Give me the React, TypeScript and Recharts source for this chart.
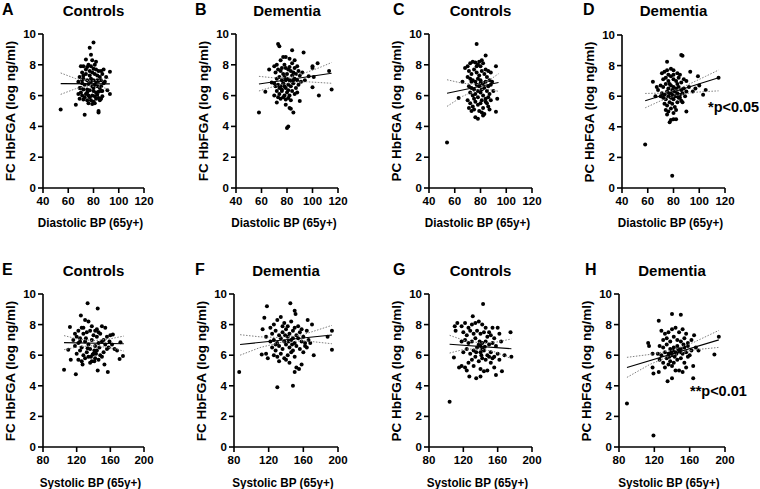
import React from 'react';
import { ScatterChart, Scatter, XAxis, YAxis } from 'recharts';

const FONT = '"Liberation Sans", Arial, Helvetica, sans-serif';

// ---------- tick labels ----------
const yTicks = [0, 2, 4, 6, 8, 10];
const diaTicks = [40, 60, 80, 100, 120];
const sysTicks = [80, 120, 160, 200];

// ---------- panel texts ----------
const panelLetters = ['A', 'B', 'C', 'D', 'E', 'F', 'G', 'H'];
const panelTitles = ['Controls', 'Dementia', 'Controls', 'Dementia', 'Controls', 'Dementia', 'Controls', 'Dementia'];
const yLabels = ['FC HbFGA (log ng/ml)', 'FC HbFGA (log ng/ml)', 'PC HbFGA (log ng/ml)', 'PC HbFGA (log ng/ml)',
  'FC HbFGA (log ng/ml)', 'FC HbFGA (log ng/ml)', 'PC HbFGA (log ng/ml)', 'PC HbFGA (log ng/ml)'];
const xLabels = ['Diastolic BP (65y+)', 'Diastolic BP (65y+)', 'Diastolic BP (65y+)', 'Diastolic BP (65y+)',
  'Systolic BP (65y+)', 'Systolic BP (65y+)', 'Systolic BP (65y+)', 'Systolic BP (65y+)'];
const pValues = ['', '', '', '*p<0.05', '', '', '', '**p<0.01'];

type P = [number, number];

// ---------- A: Controls, FC vs diastolic ----------
const pointsA: P[] = [
  [54, 5.1], [80, 9.45], [77, 9.1], [78, 8.65], [74, 8.35], [82, 8.2], [73, 4.75], [84, 5.0], [84, 4.9], [66, 5.4],
  [93, 6.1], [93, 7.55], [91, 6.35], [90, 7.2], [89, 6.9], [88, 6.8], [87, 6.3], [86, 5.8], [85, 5.7],
  [70, 7.9], [72, 7.9], [75, 7.85], [78, 7.9], [80, 7.75], [82, 7.7], [84, 7.6], [86, 7.6], [71, 7.5], [74, 7.4],
  [77, 7.3], [79, 7.5], [81, 7.4], [83, 7.3], [85, 7.2], [69, 7.2], [72, 7.1], [75, 7.0], [78, 7.1], [80, 7.0],
  [82, 6.9], [84, 6.95], [86, 7.0], [68, 6.9], [71, 6.8], [73, 6.7], [76, 6.75], [79, 6.6], [81, 6.7], [83, 6.6],
  [70, 6.5], [72, 6.4], [75, 6.4], [77, 6.35], [80, 6.3], [82, 6.2], [84, 6.25], [86, 6.3], [68, 6.1], [71, 6.0],
  [74, 6.1], [76, 6.0], [79, 6.0], [81, 5.95], [83, 6.05], [69, 5.8], [72, 5.75], [75, 5.7], [78, 5.7], [80, 5.6],
  [82, 5.8], [76, 5.5], [79, 5.45], [73, 5.9], [85, 6.5], [87, 7.4], [88, 7.7], [77, 7.6], [74, 7.7], [76, 8.0],
  [81, 8.0], [79, 8.3], [72, 7.3], [70, 6.2], [78, 6.9], [80, 6.5], [83, 7.0], [86, 6.6], [75, 6.2], [84, 5.85],
  [87, 5.95], [71, 7.0], [69, 6.5], [77, 5.9], [81, 5.5],
];
const regA: P[] = [[54, 6.78], [93, 6.76]];
const ciUpA: P[] = [[54, 7.47], [66, 7.1], [78, 6.95], [86, 7.0], [93, 7.15]];
const ciLoA: P[] = [[54, 6.08], [66, 6.45], [78, 6.62], [86, 6.55], [93, 6.4]];

// ---------- B: Dementia, FC vs diastolic ----------
const pointsB: P[] = [
  [58, 4.9], [73, 9.35], [74, 9.2], [84, 8.95], [93, 8.8], [80, 3.9], [81, 4.0], [85, 4.9], [83, 5.15], [82, 5.2],
  [79, 5.4], [72, 5.55], [63, 6.25], [66, 7.7], [68, 6.85], [100, 7.9], [100, 7.8], [104, 8.1], [101, 7.2],
  [100, 6.55], [105, 6.0], [113, 7.6], [115, 6.4], [90, 5.65], [97, 7.25], [94, 7.0],
  [70, 7.9], [72, 8.0], [75, 8.3], [77, 8.5], [79, 8.5], [82, 8.4], [84, 8.1], [86, 8.3], [88, 7.9], [71, 7.5],
  [73, 7.7], [75, 7.6], [77, 7.4], [79, 7.8], [81, 7.7], [83, 7.6], [85, 7.5], [87, 7.4], [89, 7.6], [72, 7.1],
  [74, 7.2], [76, 7.0], [78, 7.2], [80, 7.1], [82, 7.0], [84, 7.3], [86, 7.1], [88, 7.0], [90, 7.3], [70, 6.8],
  [73, 6.7], [75, 6.6], [77, 6.8], [79, 6.5], [81, 6.7], [83, 6.6], [85, 6.8], [87, 6.5], [72, 6.3], [74, 6.1],
  [76, 6.3], [78, 6.0], [80, 6.2], [82, 6.0], [84, 6.3], [86, 6.1], [75, 5.8], [77, 5.9], [79, 5.75], [81, 5.85],
  [83, 5.7], [70, 6.0], [74, 6.5], [78, 6.6], [80, 7.4], [76, 7.8], [84, 6.9], [86, 7.8], [92, 7.5], [88, 6.2],
  [89, 6.7], [91, 6.9], [71, 6.6], [73, 5.9], [79, 7.0], [81, 6.35], [78, 8.0], [82, 7.85], [76, 6.4], [85, 7.0],
];
const regB: P[] = [[58, 6.75], [115, 7.45]];
const ciUpB: P[] = [[58, 7.25], [70, 7.15], [82, 7.2], [95, 7.5], [105, 7.8], [115, 8.15]];
const ciLoB: P[] = [[58, 6.3], [70, 6.6], [82, 6.85], [95, 6.9], [105, 6.85], [115, 6.8]];

// ---------- C: Controls, PC vs diastolic ----------
const pointsC: P[] = [
  [54, 2.95], [77, 9.35], [84, 8.6], [81, 8.3], [92, 7.9], [92, 4.95], [93, 5.8], [78, 4.5], [76, 4.6], [82, 4.7],
  [63, 5.85], [66, 6.9], [68, 7.8],
  [70, 7.9], [72, 8.1], [74, 8.2], [76, 8.15], [78, 8.0], [80, 7.9], [82, 8.1], [84, 7.7], [86, 7.6], [88, 7.5],
  [71, 7.6], [73, 7.4], [75, 7.7], [77, 7.5], [79, 7.3], [81, 7.6], [83, 7.4], [85, 7.2], [87, 7.0], [70, 7.2],
  [72, 7.1], [74, 7.0], [76, 6.9], [78, 7.1], [80, 7.0], [82, 6.8], [84, 6.9], [86, 6.6], [89, 6.9], [71, 6.6],
  [73, 6.5], [75, 6.4], [77, 6.7], [79, 6.6], [81, 6.4], [83, 6.5], [85, 6.3], [87, 6.1], [72, 6.2], [74, 6.0],
  [76, 6.1], [78, 5.9], [80, 6.2], [82, 6.0], [84, 5.8], [86, 5.9], [88, 5.7], [70, 5.7], [72, 5.5], [74, 5.3],
  [76, 5.6], [78, 5.4], [80, 5.5], [82, 5.2], [84, 5.6], [86, 5.3], [71, 5.2], [73, 5.0], [75, 5.1], [79, 5.0],
  [81, 4.9], [83, 4.8], [90, 6.3], [88, 6.7], [77, 7.9], [79, 8.2], [75, 5.8], [81, 5.7], [85, 5.5], [87, 5.1],
  [73, 6.9], [80, 6.8], [78, 6.3],
];
const regC: P[] = [[54, 6.15], [94, 6.85]];
const ciUpC: P[] = [[54, 7.03], [66, 6.8], [78, 6.72], [86, 6.95], [94, 7.42]];
const ciLoC: P[] = [[54, 5.3], [66, 5.95], [78, 6.4], [86, 6.4], [94, 6.28]];

// ---------- D: Dementia, PC vs diastolic ----------
const pointsD: P[] = [
  [58, 2.85], [79, 0.8], [86, 8.7], [87, 8.65], [75, 8.25], [105, 6.4], [115, 7.2], [103, 6.1], [100, 6.7],
  [99, 7.3], [93, 7.6], [90, 7.0], [90, 5.0], [77, 4.3], [78, 4.45], [80, 4.5], [82, 4.5], [64, 6.95], [67, 6.6],
  [66, 6.0],
  [71, 7.5], [73, 7.6], [75, 7.7], [78, 7.8], [80, 7.7], [83, 7.5], [85, 7.4], [72, 7.1], [74, 7.2], [76, 7.0],
  [78, 7.3], [80, 7.1], [82, 7.0], [84, 7.2], [86, 6.9], [88, 7.1], [70, 6.7], [72, 6.6], [74, 6.8], [76, 6.5],
  [78, 6.7], [80, 6.6], [82, 6.5], [84, 6.6], [86, 6.4], [88, 6.5], [92, 6.6], [71, 6.2], [73, 6.1], [75, 6.3],
  [77, 6.2], [79, 6.1], [81, 6.3], [83, 6.2], [85, 6.1], [87, 6.2], [89, 6.0], [95, 6.3], [72, 5.9], [74, 5.8],
  [76, 6.0], [78, 5.9], [80, 5.8], [82, 6.0], [84, 5.9], [86, 5.7], [73, 5.5], [75, 5.4], [77, 5.6], [79, 5.5],
  [81, 5.3], [83, 5.6], [74, 5.1], [76, 5.0], [78, 5.2], [80, 4.9], [82, 5.1], [75, 4.8], [85, 5.9], [87, 5.6],
  [79, 6.4], [81, 6.0], [77, 6.8], [83, 6.8], [90, 6.3], [97, 6.5], [70, 6.0], [76, 7.4], [80, 7.4], [68, 6.4],
];
const regD: P[] = [[58, 5.7], [115, 7.2]];
const ciUpD: P[] = [[58, 6.18], [70, 6.2], [82, 6.4], [95, 6.9], [105, 7.3], [115, 7.71]];
const ciLoD: P[] = [[58, 5.24], [70, 5.7], [82, 6.05], [95, 6.25], [105, 6.3], [115, 6.35]];

// ---------- E: Controls, FC vs systolic ----------
const pointsE: P[] = [
  [105, 5.05], [119, 4.75], [145, 5.0], [157, 4.9], [133, 9.4], [145, 9.05], [125, 8.6], [172, 6.85], [175, 5.95],
  [171, 5.75], [168, 6.3], [112, 7.85], [110, 6.35], [113, 5.7],
  [118, 7.4], [122, 7.6], [126, 7.8], [130, 8.3], [134, 8.2], [138, 7.9], [142, 7.6], [146, 7.5], [150, 7.9],
  [154, 7.8], [116, 7.0], [120, 7.2], [124, 7.1], [128, 7.4], [132, 7.5], [136, 7.6], [140, 7.3], [144, 7.2],
  [148, 7.4], [152, 7.0], [156, 7.2], [160, 7.3], [163, 7.35], [118, 6.6], [122, 6.8], [126, 6.5], [130, 6.9],
  [134, 6.7], [138, 7.0], [142, 6.6], [146, 6.8], [150, 6.9], [154, 6.7], [158, 6.5], [162, 6.7], [120, 6.1],
  [124, 6.3], [128, 6.0], [132, 6.2], [136, 6.4], [140, 6.1], [144, 6.3], [148, 6.0], [152, 6.2], [156, 6.4],
  [165, 6.4], [122, 5.7], [126, 5.6], [130, 5.8], [134, 5.9], [138, 5.6], [142, 5.8], [146, 5.7], [150, 5.9],
  [127, 5.4], [136, 5.5], [141, 5.6], [153, 5.4], [139, 6.05], [141, 6.3], [137, 5.9], [143, 6.1], [131, 7.1],
  [147, 6.5], [133, 6.45], [159, 6.9], [124, 6.9], [144, 7.7], [128, 7.8],
];
const regE: P[] = [[105, 6.82], [176, 6.75]];
const ciUpE: P[] = [[105, 7.28], [122, 7.05], [140, 6.95], [158, 7.05], [176, 7.25]];
const ciLoE: P[] = [[105, 6.36], [122, 6.55], [140, 6.62], [158, 6.5], [176, 6.27]];

// ---------- F: Dementia, FC vs systolic ----------
const pointsF: P[] = [
  [86, 4.9], [130, 3.9], [148, 4.0], [118, 9.2], [145, 9.4], [150, 8.9], [151, 8.7], [165, 8.3], [170, 8.0],
  [172, 6.0], [188, 7.2], [193, 7.6], [193, 6.35], [150, 4.9], [152, 5.2], [155, 5.1], [158, 5.4], [112, 6.05],
  [115, 8.45], [113, 7.7], [117, 7.2], [117, 6.1], [119, 5.8],
  [122, 7.8], [126, 8.0], [130, 8.3], [134, 8.5], [138, 8.1], [142, 7.9], [146, 8.2], [150, 7.8], [154, 7.9],
  [158, 7.7], [124, 7.4], [128, 7.6], [132, 7.3], [136, 7.5], [140, 7.7], [144, 7.4], [148, 7.6], [152, 7.3],
  [156, 7.5], [160, 7.2], [164, 7.6], [122, 6.9], [126, 7.0], [130, 6.8], [134, 7.1], [138, 6.9], [142, 7.2],
  [146, 7.0], [150, 6.8], [154, 7.1], [158, 6.9], [162, 6.8], [166, 7.0], [124, 6.5], [128, 6.3], [132, 6.6],
  [136, 6.4], [140, 6.7], [144, 6.5], [148, 6.3], [152, 6.6], [156, 6.4], [160, 6.2], [164, 6.5], [126, 6.0],
  [130, 5.9], [134, 6.1], [138, 5.8], [142, 6.0], [146, 6.2], [150, 5.9], [132, 5.6], [140, 5.7], [144, 5.5],
  [128, 6.7], [136, 7.9], [148, 7.1], [162, 6.6], [168, 6.8], [143, 6.9], [139, 7.3], [147, 6.7],
];
const regF: P[] = [[87, 6.7], [193, 7.32]];
const ciUpF: P[] = [[87, 7.34], [110, 7.2], [135, 7.15], [160, 7.35], [193, 7.95]];
const ciLoF: P[] = [[87, 6.0], [110, 6.5], [135, 6.85], [160, 6.95], [193, 6.75]];

// ---------- G: Controls, PC vs systolic ----------
const pointsG: P[] = [
  [104, 2.95], [143, 9.35], [131, 8.55], [175, 7.5], [176, 5.9], [165, 4.95], [158, 4.7], [140, 4.6], [135, 4.5],
  [127, 4.6], [109, 5.85], [115, 5.2], [113, 8.1], [111, 7.6], [110, 7.9],
  [118, 7.9], [122, 8.1], [126, 7.8], [130, 8.0], [134, 8.1], [138, 8.2], [142, 8.0], [146, 7.8], [150, 7.5],
  [154, 7.8], [160, 7.8], [120, 7.5], [124, 7.3], [128, 7.6], [132, 7.4], [136, 7.6], [140, 7.4], [144, 7.5],
  [148, 7.2], [152, 7.3], [156, 7.1], [162, 7.4], [118, 6.9], [122, 7.0], [126, 6.8], [130, 6.9], [134, 7.1],
  [138, 6.7], [142, 6.8], [146, 6.9], [150, 6.7], [154, 6.8], [158, 6.6], [164, 6.9], [120, 6.2], [124, 6.4],
  [128, 6.1], [132, 6.3], [136, 6.5], [140, 6.2], [144, 6.3], [148, 6.0], [152, 6.2], [156, 5.9], [160, 6.1],
  [168, 6.0], [118, 5.3], [122, 5.2], [126, 5.5], [130, 5.7], [134, 5.9], [138, 5.6], [142, 5.8], [146, 5.7],
  [150, 5.9], [154, 5.8], [162, 5.7], [124, 5.0], [132, 5.3], [140, 5.1], [144, 4.95], [148, 5.0], [152, 5.5],
  [156, 5.2], [140, 6.6], [142, 6.4], [139, 6.9], [145, 6.55], [135, 6.2], [141, 6.0],
];
const regG: P[] = [[104, 6.72], [176, 6.42]];
const ciUpG: P[] = [[104, 7.3], [122, 6.95], [140, 6.8], [158, 6.85], [176, 7.06]];
const ciLoG: P[] = [[104, 6.14], [122, 6.4], [140, 6.4], [158, 6.2], [176, 5.77]];

// ---------- H: Dementia, PC vs systolic ----------
const pointsH: P[] = [
  [89, 2.85], [119, 0.75], [140, 8.7], [150, 8.65], [125, 8.25], [193, 7.2], [188, 6.05], [165, 7.3], [167, 6.5],
  [170, 6.3], [164, 5.3], [164, 4.5], [135, 4.3], [140, 4.5], [113, 6.8], [114, 6.6], [118, 6.1], [118, 5.2],
  [119, 4.8], [125, 4.9],
  [128, 7.6], [132, 7.4], [136, 7.5], [140, 7.7], [144, 7.8], [148, 7.5], [152, 7.7], [156, 7.4], [130, 7.0],
  [134, 7.1], [138, 6.9], [142, 7.2], [146, 7.0], [150, 6.9], [154, 7.1], [158, 6.8], [162, 7.0], [126, 6.6],
  [130, 6.5], [134, 6.7], [138, 6.4], [142, 6.5], [146, 6.6], [150, 6.4], [154, 6.5], [158, 6.6], [162, 6.3],
  [124, 6.1], [128, 6.0], [132, 6.2], [136, 6.1], [140, 6.0], [144, 6.2], [148, 6.3], [152, 6.1], [156, 6.2],
  [160, 6.0], [126, 5.7], [130, 5.5], [134, 5.8], [138, 5.6], [142, 5.5], [146, 5.7], [150, 5.8], [154, 5.5],
  [158, 5.9], [132, 5.2], [136, 5.4], [140, 5.3], [144, 5.0], [148, 5.0], [152, 4.9], [156, 5.2], [141, 6.3],
  [143, 5.9], [145, 6.1], [147, 6.4], [139, 6.2], [137, 5.9], [153, 6.7], [149, 6.2],
];
const regH: P[] = [[89, 5.2], [193, 7.0]];
const ciUpH: P[] = [[89, 5.86], [115, 6.05], [140, 6.32], [165, 6.85], [193, 7.62]];
const ciLoH: P[] = [[89, 4.55], [115, 5.4], [140, 6.0], [165, 6.35], [193, 6.51]];

// ---------- layout (pixel frames of each plot area) ----------
const frames = [
  { left: 43, right: 144, top: 34, bottom: 188 },
  { left: 236, right: 338, top: 34, bottom: 188 },
  { left: 429, right: 532, top: 34, bottom: 188 },
  { left: 622, right: 725, top: 35, bottom: 188 },
  { left: 43, right: 144, top: 294, bottom: 447 },
  { left: 234, right: 338, top: 294, bottom: 447 },
  { left: 429, right: 532, top: 294, bottom: 447 },
  { left: 619, right: 725, top: 294, bottom: 447 },
];
const letterX = [2, 195, 393, 583, 2, 195, 393, 585];
const pPos = [null, null, null, { x: 708, y: 108 }, null, null, null, { x: 690, y: 392 }];

const allPoints = [pointsA, pointsB, pointsC, pointsD, pointsE, pointsF, pointsG, pointsH];
const allReg = [regA, regB, regC, regD, regE, regF, regG, regH];
const allCiUp = [ciUpA, ciUpB, ciUpC, ciUpD, ciUpE, ciUpF, ciUpG, ciUpH];
const allCiLo = [ciLoA, ciLoB, ciLoC, ciLoD, ciLoE, ciLoF, ciLoG, ciLoH];

const toObj = (arr: P[]) => arr.map(([x, y]) => ({ x, y }));

const Dot = (props: any) => <circle cx={props.cx} cy={props.cy} r={2} fill="#000" />;
const NoDot = () => <g />;

const axisStyle = { stroke: '#000', strokeWidth: 1.6 };
const tickStyle = { fill: '#000', fontSize: 11.5, fontWeight: 700, fontFamily: FONT };

function Panel({ i }: { i: number }) {
  const f = frames[i];
  const isDia = i < 4;
  const W = f.right - f.left + 45;
  const H = f.bottom - f.top + 40;
  return (
    <div style={{ position: 'absolute', left: f.left - 35, top: f.top - 10 }}>
      <ScatterChart width={W} height={H} margin={{ top: 10, right: 10, bottom: 0, left: 0 }}>
        <XAxis
          type="number"
          dataKey="x"
          domain={isDia ? [40, 120] : [80, 200]}
          ticks={isDia ? diaTicks : sysTicks}
          interval={0}
          height={30}
          tickSize={5}
          tickMargin={4}
          axisLine={axisStyle}
          tickLine={axisStyle}
          tick={tickStyle}
          allowDataOverflow
        />
        <YAxis
          type="number"
          dataKey="y"
          domain={[0, 10]}
          ticks={yTicks}
          interval={0}
          width={35}
          tickSize={5}
          tickMargin={2}
          axisLine={axisStyle}
          tickLine={axisStyle}
          tick={tickStyle}
          allowDataOverflow
        />
        <Scatter data={toObj(allPoints[i])} shape={Dot} isAnimationActive={false} />
        <Scatter data={toObj(allCiUp[i])} shape={NoDot} line={{ stroke: '#808080', strokeWidth: 1, strokeDasharray: '1.5 1.5' }} isAnimationActive={false} />
        <Scatter data={toObj(allCiLo[i])} shape={NoDot} line={{ stroke: '#808080', strokeWidth: 1, strokeDasharray: '1.5 1.5' }} isAnimationActive={false} />
        <Scatter data={toObj(allReg[i])} shape={NoDot} line={{ stroke: '#000', strokeWidth: 1.1 }} isAnimationActive={false} />
      </ScatterChart>
    </div>
  );
}

const txt = (x: number, y: number, s: string, size: number, extra: React.CSSProperties = {}) => (
  <div
    key={s + x + '-' + y}
    style={{
      position: 'absolute', left: x, top: y, transform: 'translate(-50%, -50%)', whiteSpace: 'nowrap',
      fontFamily: FONT, fontWeight: 700, fontSize: size, color: '#000', lineHeight: 1, ...extra,
    }}
  >
    {s}
  </div>
);

export default function App() {
  return (
    <div style={{ position: 'absolute', left: 0, top: 0, width: 760, height: 489, background: '#fff', overflow: 'hidden' }}>
      {frames.map((_, i) => <Panel key={i} i={i} />)}
      {frames.map((f, i) => {
        const rowY = i < 4 ? 10 : 270;
        const xLabY = i < 4 ? 222 : 482;
        const cx = (f.left + f.right) / 2;
        const cy = (f.top + f.bottom) / 2;
        return (
          <React.Fragment key={'t' + i}>
            <div style={{ position: 'absolute', left: letterX[i], top: rowY - 8, fontFamily: FONT, fontWeight: 700, fontSize: 16, lineHeight: 1 }}>
              {panelLetters[i]}
            </div>
            {txt(cx, rowY, panelTitles[i], 15)}
            {txt(cx - 3, xLabY, xLabels[i], 11.7, { transform: 'translate(-50%, -50%) scaleY(1.15)' })}
            {txt(f.left - 32, cy, yLabels[i], 13.5, { transform: 'translate(-50%, -50%) rotate(-90deg)' })}
            {pPos[i] && (
              <div style={{ position: 'absolute', left: pPos[i]!.x, top: pPos[i]!.y - 8, fontFamily: FONT, fontWeight: 700, fontSize: 14.5, lineHeight: 1, whiteSpace: 'nowrap' }}>
                {pValues[i]}
              </div>
            )}
          </React.Fragment>
        );
      })}
    </div>
  );
}
